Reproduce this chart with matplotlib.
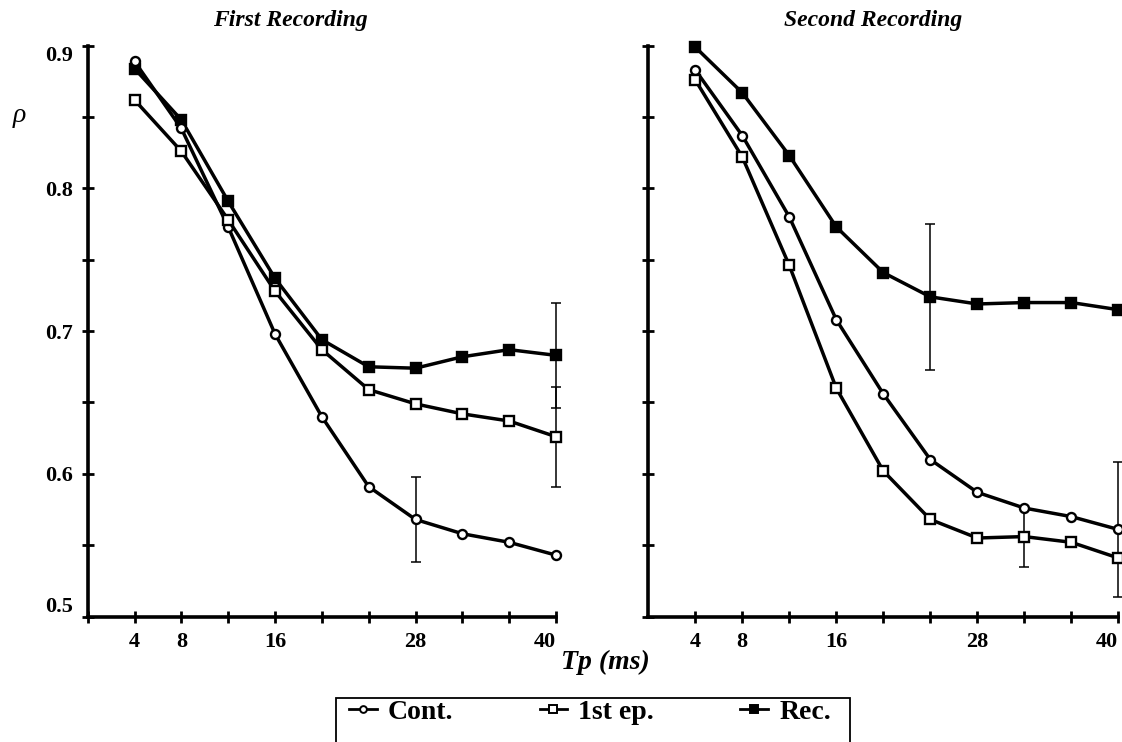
#!/usr/bin/env python3
"""Correlation rho vs Tp for the first and second recording (Cont., 1st ep., Rec.)."""

import matplotlib

matplotlib.use("Agg")

import matplotlib.pyplot as plt
import numpy as np
from matplotlib.lines import Line2D
from matplotlib.patches import Rectangle

plt.rcParams["font.family"] = ["Liberation Serif", "DejaVu Serif"]
plt.rcParams["font.weight"] = "bold"

# Data
tp_ms = [4, 8, 12, 16, 20, 24, 28, 32, 36, 40]

first_cont = [0.889, 0.842, 0.773, 0.698, 0.640, 0.591, 0.568, 0.558, 0.552, 0.543]
first_ep1 = [0.862, 0.826, 0.778, 0.728, 0.687, 0.659, 0.649, 0.642, 0.637, 0.626]
first_rec = [0.884, 0.848, 0.791, 0.737, 0.694, 0.675, 0.674, 0.682, 0.687, 0.683]

first_cont_err = [0, 0, 0, 0, 0, 0, 0.030, 0, 0, 0]
first_ep1_err = [0, 0, 0, 0, 0, 0, 0, 0, 0, 0.035]
first_rec_err = [0, 0, 0, 0, 0, 0, 0, 0, 0, 0.037]

second_cont = [0.883, 0.837, 0.780, 0.708, 0.656, 0.610, 0.587, 0.576, 0.570, 0.561]
second_ep1 = [0.876, 0.822, 0.746, 0.660, 0.602, 0.568, 0.555, 0.556, 0.552, 0.541]
second_rec = [0.899, 0.867, 0.823, 0.773, 0.741, 0.724, 0.719, 0.720, 0.720, 0.715]

second_cont_err = [0, 0, 0, 0, 0, 0, 0, 0, 0, 0.047]
second_ep1_err = [0, 0, 0, 0, 0, 0, 0, 0.021, 0, 0]
second_rec_err = [0, 0, 0, 0, 0, 0.051, 0, 0, 0, 0]

labels = ["Cont.", "1st ep.", "Rec."]
x_labelled = [4, 8, 16, 28, 40]
y_ticks = [0.5, 0.55, 0.6, 0.65, 0.7, 0.75, 0.8, 0.85, 0.9]

W, H = 1122, 742
STYLES = {
    "Cont.": dict(marker="o", markersize=6.5, markerfacecolor="white"),
    "1st ep.": dict(marker="s", markersize=7.5, markerfacecolor="white"),
    "Rec.": dict(marker="s", markersize=7.5, markerfacecolor="black"),
}


def draw_panel(ax, title, title_x, series, show_x0, show_ylabels):
    x = np.array(tp_ms)
    # draw order: Rec below, then Cont., then 1st ep. on top
    for name in ["Rec.", "Cont.", "1st ep."]:
        y, err = series[name]
        y = np.array(y)
        err = np.array(err)
        ax.plot(x, y, color="black", lw=2.5, markeredgecolor="black",
                markeredgewidth=1.7, clip_on=False, zorder=3, **STYLES[name])
        m = err > 0
        ax.errorbar(x[m], y[m], yerr=err[m], fmt="none", ecolor="black",
                    elinewidth=1.1, capsize=3.6, capthick=1.1, clip_on=False, zorder=2)

    ax.set_xlim(0, 40)
    ax.set_ylim(0.5, 0.9)
    for side in ["top", "right"]:
        ax.spines[side].set_visible(False)
    for side in ["left", "bottom"]:
        ax.spines[side].set_linewidth(2.6)

    xt = ([0] if show_x0 else []) + tp_ms
    ax.set_xticks(xt)
    ax.set_xticklabels([str(v) if v in x_labelled else "" for v in xt])
    ax.set_yticks(y_ticks)
    if show_ylabels:
        ax.set_yticklabels([f"{v:.1f}" if round(v * 10) == v * 10 else "" for v in y_ticks])
    else:
        ax.set_yticklabels([])
    ax.tick_params(direction="inout", length=9, width=2, labelsize=16)
    ax.tick_params(axis="x", pad=7)
    ax.tick_params(axis="y", pad=6)

    # the last x label sits just left of its tick, as in the original
    ax.get_xticklabels()[-1].set_horizontalalignment("right")
    if show_ylabels:
        ylabs = ax.get_yticklabels()
        ylabs[0].set_verticalalignment("bottom")
        ylabs[-1].set_verticalalignment("top")

    ax.text(title_x, 1.045, title, transform=ax.transAxes, ha="center", va="center",
            fontsize=17, fontstyle="italic", fontweight="bold")


fig = plt.figure(figsize=(W / 100, H / 100), dpi=100)

ax_left = fig.add_axes([87.7 / W, 1 - 616.5 / H, 468.3 / W, 570.8 / H])
ax_right = fig.add_axes([648.3 / W, 1 - 616.5 / H, 470 / W, 570.8 / H])

draw_panel(
    ax_left, "First Recording", 0.432,
    {"Cont.": (first_cont, first_cont_err),
     "1st ep.": (first_ep1, first_ep1_err),
     "Rec.": (first_rec, first_rec_err)},
    show_x0=True, show_ylabels=True,
)
draw_panel(
    ax_right, "Second Recording", 0.478,
    {"Cont.": (second_cont, second_cont_err),
     "1st ep.": (second_ep1, second_ep1_err),
     "Rec.": (second_rec, second_rec_err)},
    show_x0=False, show_ylabels=False,
)

fig.text(19 / W, 1 - 115 / H, "ρ", fontsize=20, fontstyle="italic", fontweight="normal",
         ha="center", va="center")
fig.text(605 / W, 1 - 662 / H, "Tp (ms)", fontsize=20, fontstyle="italic",
         fontweight="bold", ha="center", va="center")

# legend box (runs off the bottom edge like the original)
fig.add_artist(Rectangle((336 / W, -0.05), (850 - 336) / W, 0.05 + 1 - 697.7 / H,
                         transform=fig.transFigure, fill=False, lw=1.3, edgecolor="black"))
handles = [
    Line2D([], [], color="black", lw=2, markeredgecolor="black", markeredgewidth=1.4,
           **{**STYLES[name], "markersize": STYLES[name]["markersize"] * 0.75})
    for name in labels
]
fig.legend(handles, labels, loc="center left", bbox_to_anchor=(349 / W, 1 - 712 / H),
           ncol=3, frameon=False, prop=dict(family="Liberation Serif", weight="bold", size=20),
           handlelength=1.0, handletextpad=0.4, columnspacing=3.1,
           borderpad=0, borderaxespad=0)

fig.savefig("out.png", dpi=100)
